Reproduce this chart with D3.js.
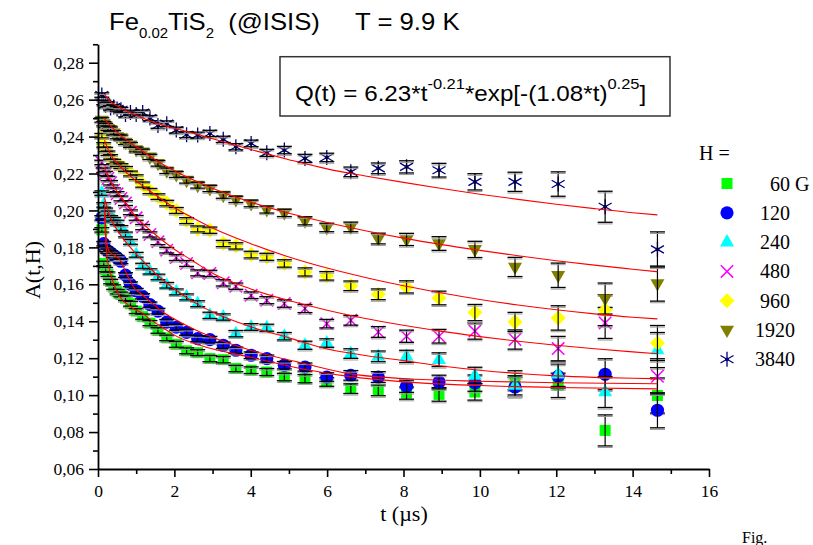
<!DOCTYPE html>
<html><head><meta charset="utf-8">
<script src="https://cdn.jsdelivr.net/npm/d3@7"></script>
<style>
html,body{margin:0;padding:0;background:#fff;}
svg{display:block;}
</style></head><body>
<svg id="chart" width="813" height="545"></svg>
<script>
// ---------- data ----------
const times = [0.10,0.15,0.20,0.26,0.33,0.41,0.50,0.60,0.72,0.85,1.00,1.17,1.36,1.57,1.80,2.05,2.32,2.61,2.93,3.28,3.61,4.01,4.42,4.88,5.42,5.99,6.62,7.34,8.08,8.93,9.87,10.92,12.05,13.28,14.65];
const errors = [0.0012,0.0012,0.0012,0.0012,0.0012,0.0012,0.0012,0.0013,0.0013,0.0013,0.0013,0.0014,0.0014,0.0015,0.0015,0.0016,0.0016,0.0016,0.0017,0.0017,0.0017,0.0018,0.0019,0.0020,0.0022,0.0023,0.0026,0.0029,0.0033,0.0037,0.0044,0.0052,0.0066,0.0084,0.0095];

const s60   = [0.1895,0.1713,0.1680,0.1655,0.1615,0.1585,0.1560,0.1545,0.1525,0.1495,0.1455,0.1425,0.1390,0.1350,0.1310,0.1275,0.1240,0.1230,0.1198,0.1192,0.1144,0.1135,0.1125,0.1098,0.1089,0.1071,0.1035,0.1026,0.1011,0.1004,0.1017,0.1080,0.1053,0.0809,0.0998];
const s120  = [0.1960,0.1820,0.1790,0.1780,0.1770,0.1757,0.1745,0.1725,0.1650,0.1600,0.1565,0.1535,0.1490,0.1455,0.1395,0.1368,0.1340,0.1306,0.1301,0.1270,0.1243,0.1216,0.1198,0.1162,0.1152,0.1098,0.1107,0.1098,0.1048,0.1071,0.1065,0.1044,0.1102,0.1113,0.0918];
const s240  = [0.2094,0.2030,0.2001,0.1985,0.1960,0.1950,0.1935,0.1905,0.1870,0.1830,0.1760,0.1700,0.1670,0.1640,0.1595,0.1559,0.1532,0.1495,0.1432,0.1423,0.1333,0.1369,0.1365,0.1319,0.1270,0.1282,0.1225,0.1210,0.1210,0.1192,0.1107,0.1053,0.1113,0.1017,0.1244];
const s480  = [0.2260,0.2218,0.2200,0.2173,0.2150,0.2110,0.2090,0.2065,0.2040,0.1990,0.1960,0.1910,0.1870,0.1830,0.1785,0.1745,0.1713,0.1662,0.1659,0.1608,0.1590,0.1541,0.1514,0.1496,0.1469,0.1387,0.1405,0.1342,0.1319,0.1319,0.1347,0.1301,0.1252,0.1391,0.1102];
const s960  = [0.2405,0.2355,0.2330,0.2310,0.2290,0.2265,0.2250,0.2240,0.2225,0.2200,0.2180,0.2140,0.2105,0.2075,0.2040,0.2000,0.1945,0.1900,0.1893,0.1821,0.1808,0.1761,0.1749,0.1713,0.1667,0.1646,0.1592,0.1546,0.1586,0.1526,0.1447,0.1396,0.1418,0.1460,0.1282];
const s1920 = [0.2490,0.2470,0.2460,0.2445,0.2440,0.2420,0.2400,0.2395,0.2370,0.2355,0.2330,0.2318,0.2290,0.2255,0.2215,0.2195,0.2164,0.2137,0.2119,0.2083,0.2060,0.2038,0.2005,0.1987,0.1944,0.1908,0.1911,0.1848,0.1843,0.1821,0.1789,0.1694,0.1649,0.1523,0.1604];
const s3840 = [0.2625,0.2585,0.2570,0.2575,0.2555,0.2560,0.2550,0.2545,0.2520,0.2530,0.2520,0.2530,0.2500,0.2460,0.2470,0.2435,0.2410,0.2408,0.2417,0.2385,0.2345,0.2363,0.2312,0.2327,0.2282,0.2287,0.2209,0.2228,0.2236,0.2218,0.2155,0.2155,0.2143,0.2020,0.1789];

// fitted curves
const fit60   = [[0.17,0.1990],[0.20,0.1840],[0.24,0.1740],[0.30,0.1680],[0.40,0.1610],[0.55,0.1540],[0.75,0.1495],[0.95,0.1465],[1.15,0.1445],[1.40,0.1405],[1.70,0.1365],[2.00,0.1325],[2.67,0.1270],[4.00,0.1205],[5.40,0.1140],[6.60,0.1100],[8.00,0.1072],[10.0,0.1052],[12.0,0.1041],[14.65,0.1034]];
const fit120  = [[0.17,0.2050],[0.20,0.1900],[0.24,0.1810],[0.30,0.1775],[0.45,0.1755],[0.58,0.1730],[0.70,0.1680],[0.80,0.1635],[0.95,0.1580],[1.15,0.1545],[1.40,0.1500],[1.70,0.1450],[2.00,0.1412],[2.67,0.1342],[3.30,0.1290],[4.00,0.1243],[5.40,0.1171],[6.60,0.1115],[8.00,0.1090],[10.0,0.1075],[12.0,0.1067],[14.65,0.1062]];
const fit240  = [[0.17,0.2070],[0.30,0.1975],[0.60,0.1865],[1.00,0.1765],[1.50,0.1660],[2.00,0.1575],[2.50,0.1505],[3.00,0.1450],[4.00,0.1370],[5.00,0.1310],[6.00,0.1250],[7.00,0.1215],[8.00,0.1187],[9.00,0.1158],[10.0,0.1135],[11.0,0.1117],[12.0,0.1104],[13.0,0.1096],[14.0,0.1091],[14.65,0.1089]];
const fit480  = [[0.17,0.2235],[0.30,0.2170],[0.60,0.2075],[1.00,0.1965],[1.50,0.1870],[2.00,0.1790],[2.50,0.1725],[3.00,0.1660],[4.00,0.1575],[5.00,0.1512],[6.00,0.1460],[7.00,0.1415],[8.00,0.1378],[9.00,0.1345],[10.0,0.1317],[11.0,0.1292],[12.0,0.1270],[13.0,0.1251],[14.0,0.1234],[14.65,0.1224]];
const fit960  = [[0.17,0.2380],[0.30,0.2315],[0.60,0.2235],[1.00,0.2160],[1.50,0.2085],[2.00,0.2015],[2.50,0.1958],[3.00,0.1905],[4.00,0.1820],[5.00,0.1748],[6.00,0.1688],[7.00,0.1637],[8.00,0.1592],[9.00,0.1553],[10.0,0.1518],[11.0,0.1488],[12.0,0.1462],[13.0,0.1440],[14.0,0.1422],[14.65,0.1413]];
const fit1920 = [[0.17,0.2495],[0.30,0.2465],[0.60,0.2405],[1.00,0.2345],[1.50,0.2275],[2.00,0.2215],[2.50,0.2165],[3.00,0.2120],[4.00,0.2045],[5.00,0.1985],[6.00,0.1935],[7.00,0.1890],[8.00,0.1850],[9.00,0.1815],[10.0,0.1784],[11.0,0.1755],[12.0,0.1728],[13.0,0.1704],[14.0,0.1682],[14.65,0.1668]];
const fit3840 = [[0.17,0.2630],[0.30,0.2595],[0.60,0.2555],[1.00,0.2515],[1.50,0.2475],[2.00,0.2445],[2.50,0.2418],[3.00,0.2388],[4.00,0.2330],[5.00,0.2275],[6.00,0.2225],[7.00,0.2187],[8.00,0.2152],[9.00,0.2119],[10.0,0.2088],[11.0,0.2060],[12.0,0.2034],[13.0,0.2010],[14.0,0.1988],[14.65,0.1976]];

const seriesLabels = ["60 G","120","240","480","960","1920","3840"];
const seriesValues = [s60,s120,s240,s480,s960,s1920,s3840];
const fits = [fit60,fit120,fit240,fit480,fit960,fit1920,fit3840];
const xTicks = [0,2,4,6,8,10,12,14,16];
const xMinor = [1,3,5,7,9,11,13,15];
const yTicks = [0.06,0.08,0.10,0.12,0.14,0.16,0.18,0.20,0.22,0.24,0.26,0.28];
const yMinor = [0.07,0.09,0.11,0.13,0.15,0.17,0.19,0.21,0.23,0.25,0.27,0.29];

// ---------- styles ----------
const styles = [
  {shape:"square",   fill:"#00ff00"},
  {shape:"circle",   fill:"#0000ff"},
  {shape:"triUp",    fill:"#00ffff"},
  {shape:"cross",    stroke:"#ff00ff"},
  {shape:"diamond",  fill:"#ffff00"},
  {shape:"triDown",  fill:"#808000"},
  {shape:"star",     stroke:"#000080"}
];
const serif = "'Liberation Serif','Times New Roman',serif";
const sans = "'Liberation Sans',Arial,sans-serif";

const svg = d3.select("#chart");
svg.append("rect").attr("width",813).attr("height",545).attr("fill","#fff");

const x = d3.scaleLinear().domain([0,16]).range([98,709]);
const y = d3.scaleLinear().domain([0.06,0.29]).range([469,44.25]);

function drawMarker(g, st, cx, cy) {
  const s = st.shape;
  if (s === "square") {
    g.append("rect").attr("x",cx-5.5).attr("y",cy-5.5).attr("width",11).attr("height",11).attr("fill",st.fill);
  } else if (s === "circle") {
    g.append("circle").attr("cx",cx).attr("cy",cy).attr("r",6.6).attr("fill",st.fill);
  } else if (s === "triUp") {
    g.append("path").attr("d",`M${cx},${cy-8}L${cx+7},${cy+4.3}L${cx-7},${cy+4.3}Z`).attr("fill",st.fill);
  } else if (s === "triDown") {
    g.append("path").attr("d",`M${cx},${cy+8}L${cx+7},${cy-4.3}L${cx-7},${cy-4.3}Z`).attr("fill",st.fill);
  } else if (s === "diamond") {
    g.append("path").attr("d",`M${cx},${cy-7.5}L${cx+7.5},${cy}L${cx},${cy+7.5}L${cx-7.5},${cy}Z`).attr("fill",st.fill);
  } else if (s === "cross") {
    const r = 6.2;
    g.append("path").attr("d",`M${cx-r},${cy-r}L${cx+r},${cy+r}M${cx-r},${cy+r}L${cx+r},${cy-r}`)
      .attr("stroke",st.stroke).attr("stroke-width",1.5).attr("fill","none");
  } else if (s === "star") {
    const r = 7.5, u = r*Math.sin(Math.PI/3), t = r*Math.cos(Math.PI/3);
    g.append("path").attr("d",`M${cx},${cy-r}L${cx},${cy+r}M${cx-u},${cy-t}L${cx+u},${cy+t}M${cx-u},${cy+t}L${cx+u},${cy-t}`)
      .attr("stroke",st.stroke).attr("stroke-width",1.3).attr("fill","none");
    g.append("circle").attr("cx",cx).attr("cy",cy).attr("r",1.9).attr("fill",st.stroke);
  }
}

// ---------- data marks ----------
const plot = svg.append("g");
seriesValues.forEach((vals, si) => {
  const g = plot.append("g");
  const st = styles[si];
  vals.forEach((v, i) => drawMarker(g, st, x(times[i]), y(v)));
  // error bars
  vals.forEach((v, i) => {
    const cx = x(times[i]), y1 = y(v + errors[i]), y2 = y(v - errors[i]);
    g.append("line").attr("x1",cx).attr("x2",cx).attr("y1",y1).attr("y2",y2)
      .attr("stroke","#000").attr("stroke-width",1.2);
    [y1, y2].forEach(yy => {
      g.append("line").attr("x1",cx-7.5).attr("x2",cx+7.5).attr("y1",yy+1.6).attr("y2",yy+1.6)
        .attr("stroke","#999").attr("stroke-width",1);
      g.append("line").attr("x1",cx-7.5).attr("x2",cx+7.5).attr("y1",yy).attr("y2",yy)
        .attr("stroke","#000").attr("stroke-width",1.3);
    });
  });
});

// fit lines
const line = d3.line().x(d => x(d[0])).y(d => y(d[1])).curve(d3.curveMonotoneX);
fits.forEach(f => {
  plot.append("path").attr("d", line(f)).attr("fill","none").attr("stroke","#ff0000").attr("stroke-width",1.1);
});

// ---------- axes ----------
const fmt = d => d3.format(".2f")(d).replace(".", ",");
function styleAxis(g) {
  g.select(".domain").attr("stroke","#000").attr("stroke-width",1.8);
  g.selectAll(".tick line").attr("stroke","#000").attr("stroke-width",1.6);
  g.selectAll(".tick text").attr("font-family",serif).attr("font-size",17.5).attr("fill","#000");
}
const gy = svg.append("g").attr("transform","translate(98,0)")
  .call(d3.axisLeft(y).tickValues(yTicks).tickSize(9).tickSizeOuter(0).tickPadding(5).tickFormat(fmt));
styleAxis(gy);
const gym = svg.append("g").attr("transform","translate(98,0)")
  .call(d3.axisLeft(y).tickValues(yMinor).tickSize(5).tickSizeOuter(0).tickFormat(""));
styleAxis(gym); gym.select(".domain").remove();

const gx = svg.append("g").attr("transform","translate(0,469)")
  .call(d3.axisBottom(x).tickValues(xTicks).tickSize(8).tickSizeOuter(0).tickPadding(8).tickFormat(d3.format("d")));
styleAxis(gx);
const gxm = svg.append("g").attr("transform","translate(0,469)")
  .call(d3.axisBottom(x).tickValues(xMinor).tickSize(5).tickSizeOuter(0).tickFormat(""));
styleAxis(gxm); gxm.select(".domain").remove();

// axis titles
svg.append("text").attr("transform","translate(40,270) rotate(-90)").attr("text-anchor","middle")
  .attr("font-family",serif).attr("font-size",22).text("A(t,H)");
svg.append("text").attr("x",404).attr("y",521).attr("text-anchor","middle")
  .attr("font-family",serif).attr("font-size",22).text("t (\u00b5s)");

// ---------- title ----------
const title = svg.append("text").attr("transform","translate(109,29.5) scale(1.07,1)")
  .attr("font-family",sans).attr("font-size",24).style("white-space","pre");
title.append("tspan").text("Fe");
title.append("tspan").attr("font-size",14).attr("dy",8.5).text("0.02");
title.append("tspan").attr("dy",-8.5).text("TiS");
title.append("tspan").attr("font-size",14).attr("dy",8.5).text("2");
title.append("tspan").attr("dy",-8.5).text("  (@ISIS)     T = 9.9 K");

// ---------- formula box ----------
svg.append("rect").attr("x",280).attr("y",56.7).attr("width",390).attr("height",59.3)
  .attr("fill","#fff").attr("stroke","#333").attr("stroke-width",1.5);
const fq = svg.append("text").attr("transform","translate(295,100.7) scale(1.1,1)")
  .attr("font-family",sans).attr("font-size",22);
fq.append("tspan").text("Q(t) = 6.23*t");
fq.append("tspan").attr("font-size",15).attr("dy",-12).text("-0.21");
fq.append("tspan").attr("dy",12).text("*exp[-(1.08*t)");
fq.append("tspan").attr("font-size",15).attr("dy",-12).text("0.25");
fq.append("tspan").attr("dy",12).text("]");

// ---------- legend ----------
svg.append("text").attr("x",699).attr("y",160).attr("font-family",serif).attr("font-size",20).text("H =");
seriesLabels.forEach((lab, i) => {
  const cy = 183.5 + i*29.3;
  drawMarker(svg, styles[i], 727, cy);
  const t = svg.append("text").attr("y", cy + 7).attr("font-family",serif).attr("font-size",20).text(lab);
  if (i === 0) t.attr("x",770).attr("text-anchor","start");
  else t.attr("x",775).attr("text-anchor","middle");
});

// caption fragment at bottom right (kept inside the page)
svg.append("text").attr("x",742).attr("y",543).attr("font-family",serif).attr("font-size",16).text("Fig.");
</script>
</body></html>
